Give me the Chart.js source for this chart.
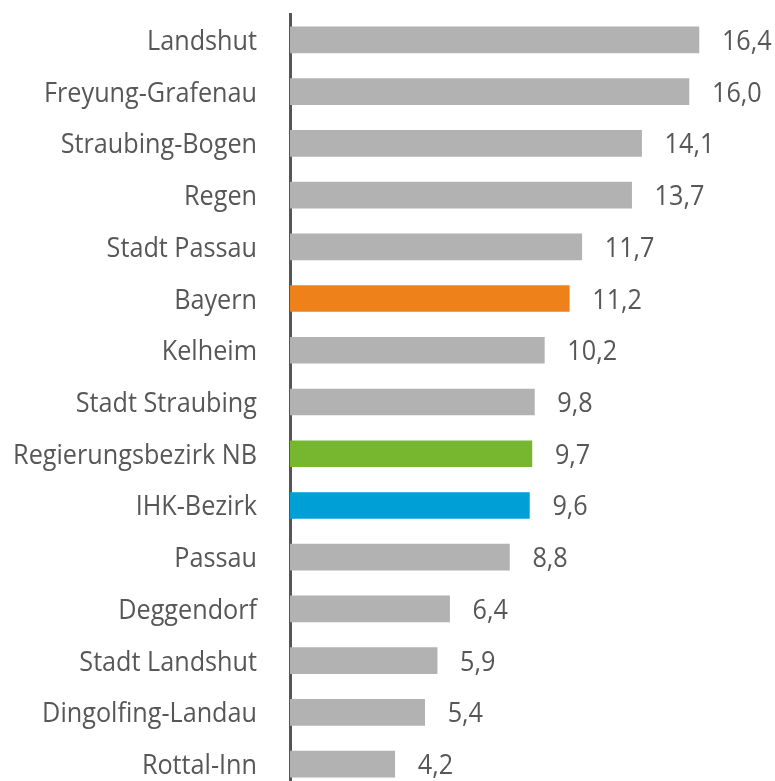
<!DOCTYPE html>
<html>
<head>
<meta charset="utf-8">
<script src="https://cdn.jsdelivr.net/npm/chart.js@4"></script>
<style>
  html, body { margin: 0; padding: 0; background: #fff; overflow: hidden; }
  #wrap { width: 775px; height: 790px; }
</style>
</head>
<body>
<div id="wrap"><canvas id="chart" width="775" height="790"></canvas></div>
<script>
// Data
const categories = ['Landshut', 'Freyung-Grafenau', 'Straubing-Bogen', 'Regen', 'Stadt Passau', 'Bayern',
  'Kelheim', 'Stadt Straubing', 'Regierungsbezirk NB', 'IHK-Bezirk', 'Passau', 'Deggendorf',
  'Stadt Landshut', 'Dingolfing-Landau', 'Rottal-Inn'];
const values = [16.4, 16.0, 14.1, 13.7, 11.7, 11.2, 10.2, 9.8, 9.7, 9.6, 8.8, 6.4, 5.9, 5.4, 4.2];

// Colours: grey for districts, highlights for the reference regions
const highlight = { 'Bayern': '#ee8119', 'Regierungsbezirk NB': '#76b72f', 'IHK-Bezirk': '#009fd6' };
const barColors = categories.map(c => highlight[c] || '#b2b2b2');

const textColor = '#575757';
const font = '28px "Open Sans", "Noto Sans", sans-serif';
const squeeze = 0.9;  // the original uses a condensed face

// draw text squeezed horizontally, anchored at x
function drawText(ctx, text, x, y, align) {
  ctx.save();
  ctx.translate(x, y);
  ctx.scale(squeeze, 1);
  ctx.textAlign = align;
  ctx.fillText(text, 0, 0);
  ctx.restore();
}

// Category names left of the axis and values next to the bar ends
const textLabels = {
  id: 'textLabels',
  afterDatasetsDraw(chart) {
    const ctx = chart.ctx;
    const yScale = chart.scales.y;
    const meta = chart.getDatasetMeta(0);
    ctx.save();
    ctx.fillStyle = textColor;
    ctx.font = font;
    ctx.textBaseline = 'alphabetic';
    categories.forEach((c, i) => {
      const y = yScale.getPixelForValue(i) + 10;
      drawText(ctx, c, yScale.right - 33, y, 'right');
      const bar = meta.data[i];
      drawText(ctx, values[i].toFixed(1).replace('.', ','), bar.x + 23, y, 'left');
    });
    ctx.restore();
  }
};

new Chart(document.getElementById('chart'), {
  type: 'bar',
  data: {
    labels: categories,
    datasets: [{
      data: values,
      backgroundColor: barColors,
      barThickness: 26
    }]
  },
  options: {
    indexAxis: 'y',
    responsive: false,
    animation: false,
    layout: { padding: { top: 14, right: 0, bottom: 0, left: 0 } },
    plugins: {
      legend: { display: false },
      tooltip: { enabled: false }
    },
    scales: {
      x: {
        display: false,
        min: 0,
        max: 19.45
      },
      y: {
        grid: { display: false, drawTicks: false },
        border: { display: true, color: '#555555', width: 3 },
        ticks: { display: false },
        afterFit(scale) {
          scale.width = 290;
          scale.paddingTop = 0;
          scale.paddingBottom = 0;
        }
      }
    }
  },
  plugins: [textLabels]
});
</script>
</body>
</html>
